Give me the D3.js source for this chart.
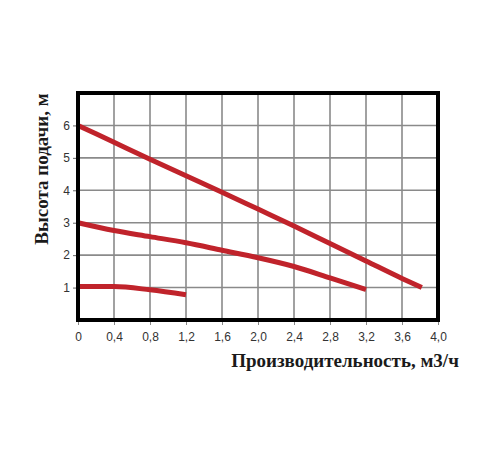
<!DOCTYPE html>
<html><head><meta charset="utf-8">
<script src="https://cdn.jsdelivr.net/npm/d3@7"></script>
<style>body{margin:0;background:#fff}</style>
</head><body>
<svg id="c" width="500" height="450"></svg>
<script>
const xTicks = [0,0.4,0.8,1.2,1.6,2.0,2.4,2.8,3.2,3.6,4.0];
const yTicks = [1,2,3,4,5,6];
const curve1 = [[0,6],[0.4,5.48],[0.8,4.96],[1.2,4.45],[1.6,3.94],[2.0,3.42],[2.4,2.9],[2.8,2.36],[3.2,1.82],[3.6,1.28],[3.82,1.0]];
const curve2 = [[0,3],[0.4,2.76],[0.8,2.57],[1.2,2.38],[1.6,2.15],[2.0,1.92],[2.4,1.65],[2.8,1.3],[3.2,0.94]];
const curve3 = [[0,1.03],[0.4,1.03],[0.8,0.93],[1.2,0.78]];
const xTitle = "Производительность, м3/ч";
const yTitle = "Высота подачи, м";

const svg = d3.select("#c");
const L=78,R=438,T=93,B=320;
const x = d3.scaleLinear().domain([0,4]).range([L,R]);
const y = d3.scaleLinear().domain([0,7]).range([B,T]);

const g = svg.append("g");
g.selectAll(".vx").data(xTicks.slice(1,-1)).enter().append("line")
 .attr("x1",d=>x(d)).attr("x2",d=>x(d)).attr("y1",T).attr("y2",B)
 .attr("stroke","#8a8a8a").attr("stroke-width",1.6);
g.selectAll(".hy").data(yTicks).enter().append("line")
 .attr("x1",L).attr("x2",R).attr("y1",d=>y(d)).attr("y2",d=>y(d))
 .attr("stroke","#8a8a8a").attr("stroke-width",1.6);

const line = d3.line().x(d=>x(d[0])).y(d=>y(d[1])).curve(d3.curveMonotoneX);
[curve1,curve2,curve3].forEach(c=>{
  g.append("path").attr("d",line(c)).attr("fill","none")
   .attr("stroke","#c0232b").attr("stroke-width",5).attr("stroke-linecap","butt");
});

g.append("rect").attr("x",L).attr("y",T).attr("width",R-L).attr("height",B-T)
 .attr("fill","none").attr("stroke","#000").attr("stroke-width",4);

const yAxis = d3.axisLeft(y).tickValues(yTicks).tickSize(3).tickPadding(3).tickFormat(d3.format("d"));
const ya = svg.append("g").attr("transform",`translate(${L-2},0)`).call(yAxis);
ya.select(".domain").remove();
ya.selectAll("line").attr("stroke","#666");
ya.selectAll("text").attr("font-family","Arial, 'Liberation Sans', sans-serif").attr("font-size",12).attr("fill","#333");

const xAxis = d3.axisBottom(x).tickValues(xTicks).tickSize(3).tickPadding(7)
 .tickFormat(d=>d===0?"0":d3.format(".1f")(d).replace(".",","));
const xa = svg.append("g").attr("transform",`translate(0,${B+2})`).call(xAxis);
xa.select(".domain").remove();
xa.selectAll("line").attr("stroke","#888");
xa.selectAll("text").attr("font-family","Arial, 'Liberation Sans', sans-serif").attr("font-size",12).attr("fill","#333");

svg.append("text").attr("x",345).attr("y",367).attr("text-anchor","middle")
 .attr("font-family","'Liberation Serif','DejaVu Serif',serif").attr("font-weight","bold").attr("font-size",19)
 .attr("fill","#1a1a1a").text(xTitle);
svg.append("text").attr("transform","translate(48,169) rotate(-90)").attr("text-anchor","middle")
 .attr("font-family","'Liberation Serif','DejaVu Serif',serif").attr("font-weight","bold").attr("font-size",19)
 .attr("fill","#1a1a1a").text(yTitle);
</script>
</body></html>
